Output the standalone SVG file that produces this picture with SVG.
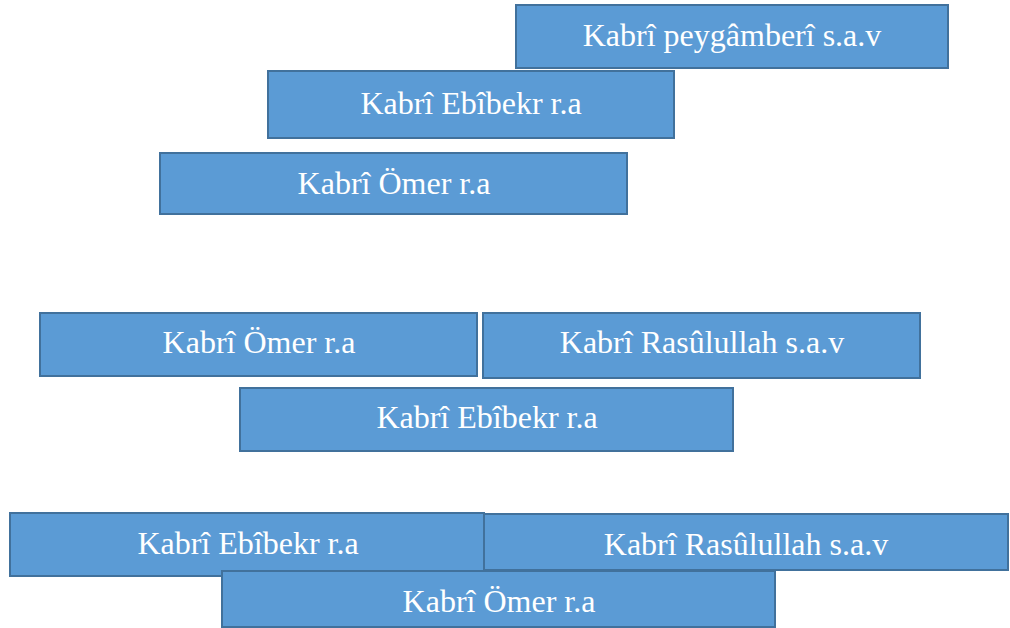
<svg xmlns="http://www.w3.org/2000/svg" width="1010" height="628" viewBox="0 0 1010 628">
<style>
.box{fill:#5B9BD5;stroke:#41719C;stroke-width:2}
.lbl{fill:#FFFFFF;font-family:"Liberation Serif","Times New Roman",serif;font-size:32px;text-anchor:middle}
</style>
<rect width="1010" height="628" fill="#FFFFFF"/>
<g id="connectors"></g>
<g id="n1"><rect class="box" x="516" y="5" width="432" height="63"/><text class="lbl" x="732" y="46">Kabrî peygâmberî s.a.v</text></g>
<g id="n2"><rect class="box" x="268" y="71" width="406" height="67"/><text class="lbl" x="471" y="114">Kabrî Ebîbekr r.a</text></g>
<g id="n3"><rect class="box" x="160" y="153" width="467" height="61"/><text class="lbl" x="394" y="194">Kabrî Ömer r.a</text></g>
<g id="n4"><rect class="box" x="40" y="313" width="437" height="63"/><text class="lbl" x="259" y="353">Kabrî Ömer r.a</text></g>
<g id="n5"><rect class="box" x="483" y="313" width="437" height="65"/><text class="lbl" x="702" y="353">Kabrî Rasûlullah s.a.v</text></g>
<g id="n6"><rect class="box" x="240" y="388" width="493" height="63"/><text class="lbl" x="487" y="428">Kabrî Ebîbekr r.a</text></g>
<g id="n7"><rect class="box" x="10" y="513" width="474" height="63"/><text class="lbl" x="248" y="554">Kabrî Ebîbekr r.a</text></g>
<g id="n8"><rect class="box" x="484" y="514" width="524" height="56"/><text class="lbl" x="746" y="555">Kabrî Rasûlullah s.a.v</text></g>
<g id="n9"><rect class="box" x="222" y="571" width="553" height="56"/><text class="lbl" x="499" y="612">Kabrî Ömer r.a</text></g>
</svg>
